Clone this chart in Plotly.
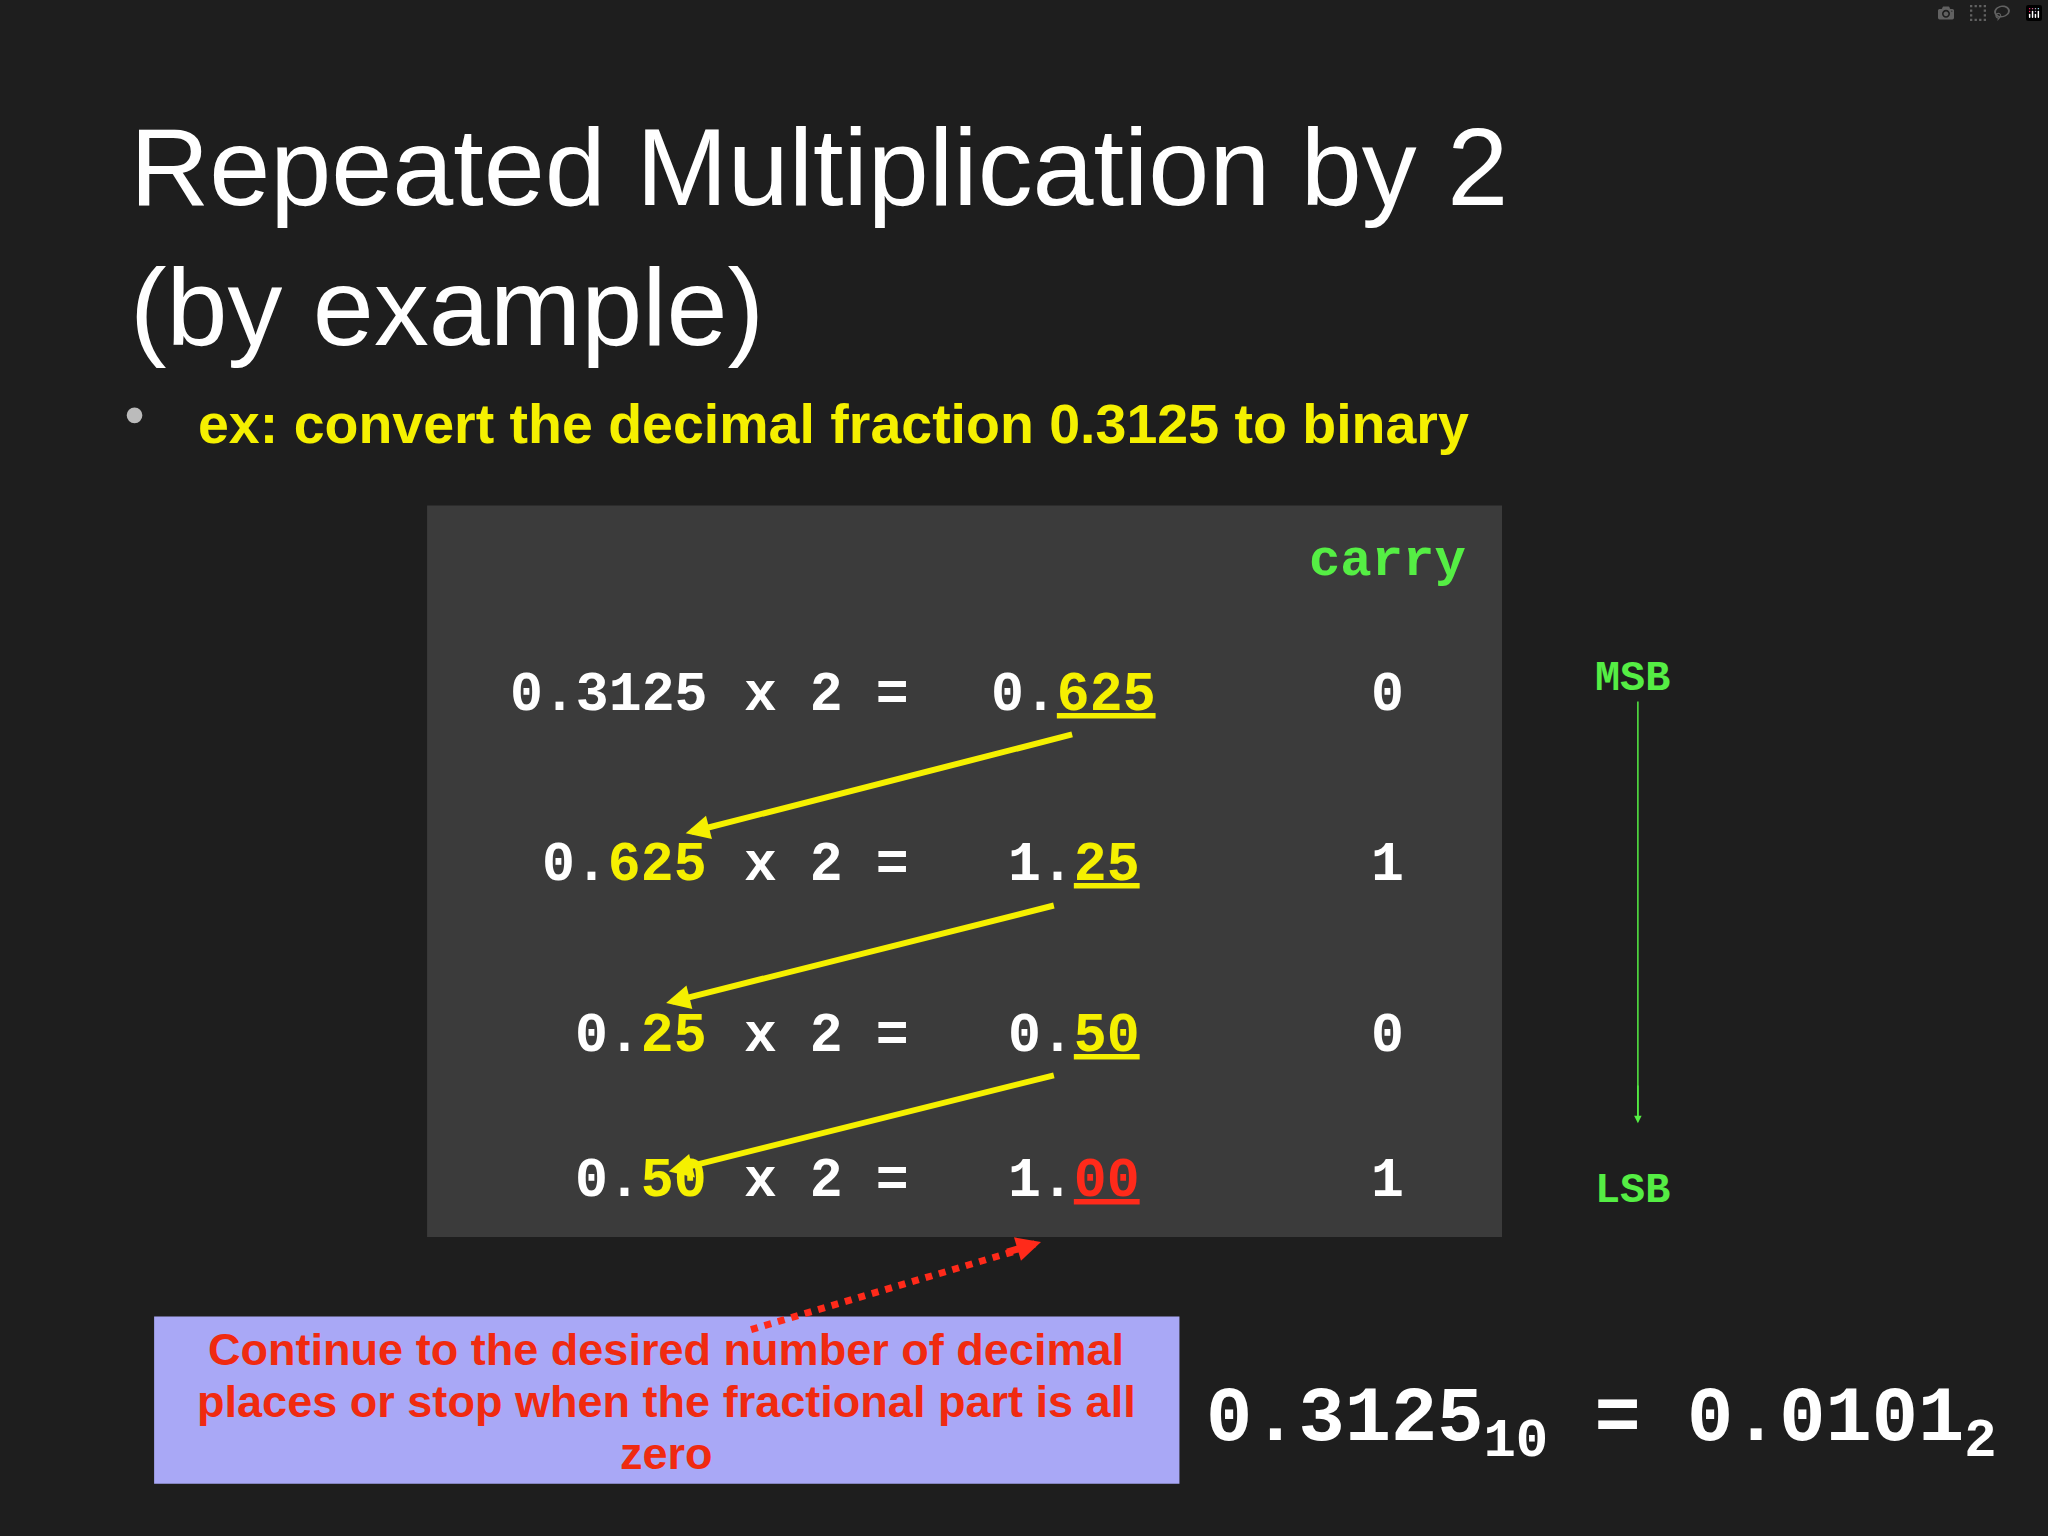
import plotly.graph_objects as go

# slide content (coordinates in the 1568x1176 slide space, scaled to the page)
title_lines = ["Repeated Multiplication by 2", "(by example)"]
bullet_text = "ex: convert the decimal fraction 0.3125 to binary"

operands = ["0.3125", "0.<span style='color:#f5f000'>625</span>",
            "0.<span style='color:#f5f000'>25</span>", "0.<span style='color:#f5f000'>50</span>"]
results = ["0.<span style='color:#f5f000'><u>625</u></span>",
           "1.<span style='color:#f5f000'><u>25</u></span>",
           "0.<span style='color:#f5f000'><u>50</u></span>",
           "1.<span style='color:#ff2a1a'><u>00</u></span>"]
carries = ["0", "1", "0", "1"]
row_y = [532, 662, 793, 904]
result_x = [757, 770, 770, 770]

arrows = [((822, 562), (525, 638)), ((808, 693), (510, 768)), ((808, 823), (512, 897))]
note_lines = ["Continue to the desired number of decimal",
              "places or stop when the fractional part is all", "zero"]

W, H = 1568, 1176
S = 2048 / W
MONO = "Liberation Mono"
SANS = "Liberation Sans"

fig = go.Figure()
fig.add_trace(go.Scatter(x=[0, W], y=[0, H], mode="markers", marker=dict(opacity=0), hoverinfo="skip"))

shapes = [
    dict(type="rect", x0=327, x1=1150, y0=387, y1=947, fillcolor="#3b3b3b", line=dict(width=0), layer="below"),
    dict(type="rect", x0=118, x1=903, y0=1008, y1=1136, fillcolor="#a9a8f6", line=dict(width=0), layer="below"),
    dict(type="line", x0=1254, x1=1254, y0=537, y1=858, line=dict(color="#55ee44", width=1.5)),
    dict(type="circle", x0=97, x1=109, y0=312, y1=324, fillcolor="#bbbbbb", line=dict(width=0)),
    dict(type="line", x0=575, y0=1018, x1=780, y1=957, line=dict(color="#ff2a1a", width=7, dash="dot")),
]

ann = []
def txt(x, y, t, size, color="white", family=SANS, xanchor="left", bold=False):
    ann.append(dict(x=x, y=y, xref="x", yref="y", text=("<b>%s</b>" % t) if bold else t,
                    showarrow=False, xanchor=xanchor, yanchor="middle",
                    font=dict(size=size * S, color=color, family=family)))

txt(98, 128, title_lines[0], 84)
txt(98, 235, title_lines[1], 84)
txt(150, 325, bullet_text, 42.5, color="#f5f000", bold=True)
txt(1062, 430, "carry", 40, color="#55ee44", family=MONO, xanchor="center", bold=True)

for op, res, c, y, rx in zip(operands, results, carries, row_y, result_x):
    txt(543, y, op, 42, family=MONO, xanchor="right", bold=True)
    txt(568, y, "x 2 =", 42, family=MONO, bold=True)
    txt(rx, y, res, 42, family=MONO, bold=True)
    txt(1062, y, c, 42, family=MONO, xanchor="center", bold=True)

txt(1250, 520, "MSB", 32, color="#55ee44", family=MONO, xanchor="center", bold=True)
txt(1250, 912, "LSB", 32, color="#55ee44", family=MONO, xanchor="center", bold=True)

for (x0, y0), (x1, y1) in arrows:
    ann.append(dict(x=x1, y=y1, ax=x0, ay=y0, xref="x", yref="y", axref="x", ayref="y",
                    text="", showarrow=True, arrowhead=2, arrowsize=0.8, arrowwidth=6, arrowcolor="#f5f000"))
ann.append(dict(x=1254, y=860, ax=1254, ay=830, xref="x", yref="y", axref="x", ayref="y",
                text="", showarrow=True, arrowhead=2, arrowsize=1, arrowwidth=1.5, arrowcolor="#55ee44"))
ann.append(dict(x=797, y=951, ax=770, ay=959, xref="x", yref="y", axref="x", ayref="y",
                text="", showarrow=True, arrowhead=2, arrowsize=0.7, arrowwidth=7, arrowcolor="#ff2a1a"))

for i, line in enumerate(note_lines):
    txt(510, 1033 + 40 * i, line, 34.5, color="#f02a10", xanchor="center", bold=True)

txt(922, 1090, "0.3125<sub>10</sub> = 0.0101<sub>2</sub>", 59, family=MONO, bold=True)

fig.update_layout(
    width=2048, height=1536, margin=dict(l=0, r=0, t=0, b=0),
    paper_bgcolor="#1e1e1e", plot_bgcolor="#1e1e1e", showlegend=False,
    xaxis=dict(range=[0, W], visible=False, fixedrange=True),
    yaxis=dict(range=[H, 0], visible=False, fixedrange=True),
    shapes=shapes, annotations=ann,
)
fig.write_html("out.html",
               post_script="document.body.style.margin='0';document.body.style.background='#1e1e1e';")
